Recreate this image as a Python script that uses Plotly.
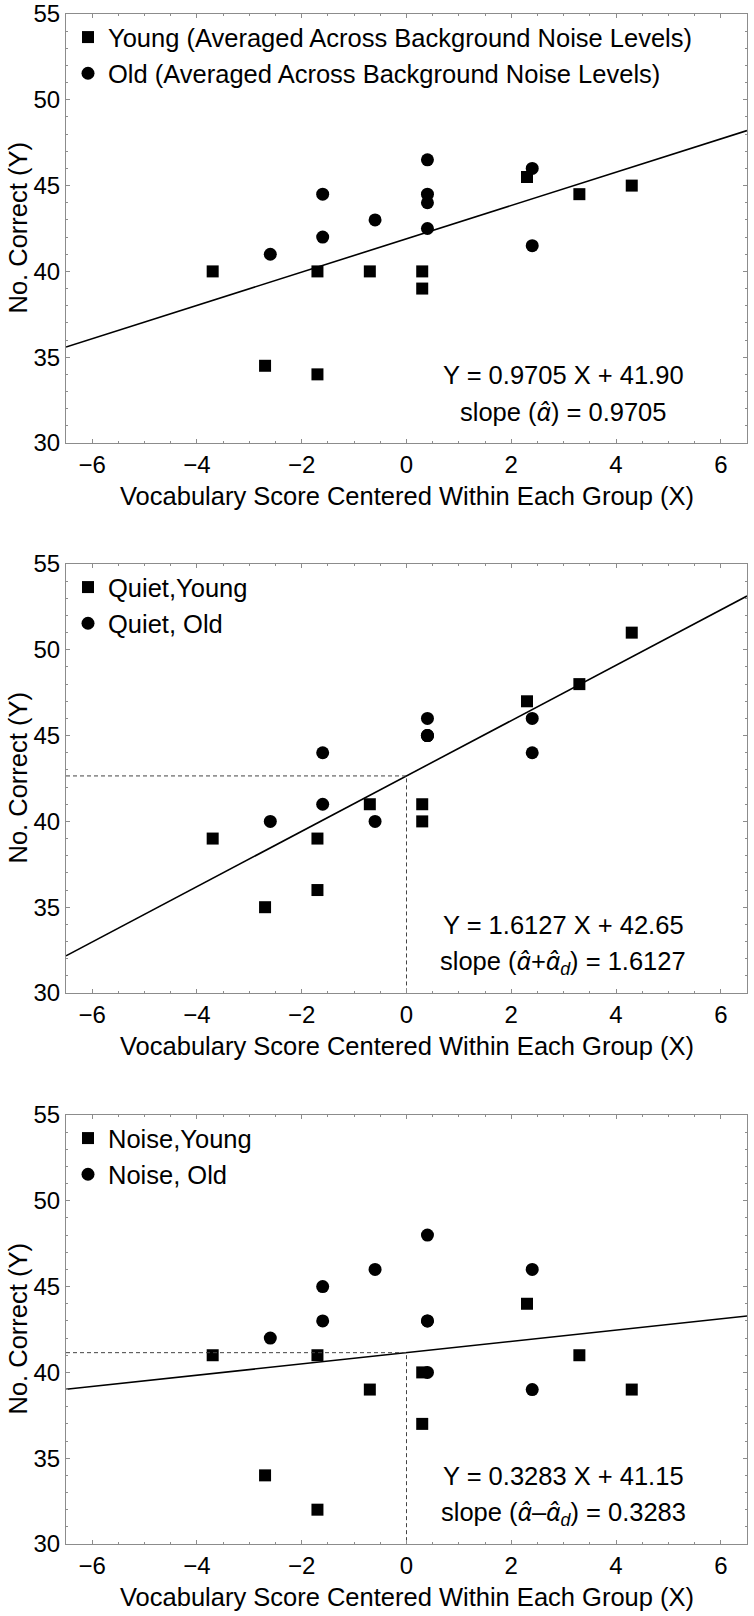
import plotly.graph_objects as go

# ---------------- data ----------------
young_x = [-3.7, -2.7, -1.7, -1.7, -0.7, 0.3, 0.3, 2.3, 3.3, 4.3]
old_x = [-2.6, -1.6, -1.6, -0.6, 0.4, 0.4, 0.4, 0.4, 2.4, 2.4]

avg_young_y = [40, 34.5, 40, 34, 40, 40, 39, 45.5, 44.5, 45]
avg_old_y = [41, 44.5, 42, 43, 46.5, 44.5, 44, 42.5, 46, 41.5]

quiet_young_y = [39, 35, 39, 36, 41, 41, 40, 47, 48, 51]
quiet_old_y = [40, 44, 41, 40, 45, 46, 45, 45, 46, 44]

noise_young_y = [41, 34, 41, 32, 39, 37, 40, 44, 41, 39]
noise_old_y = [42, 45, 43, 46, 48, 43, 43, 40, 46, 39]

slopes = [0.9705, 1.6127, 0.3283]
intercepts = [41.90, 42.65, 41.15]

legend_names = [
    ("Young (Averaged Across Background Noise Levels)", "Old (Averaged Across Background Noise Levels)"),
    ("Quiet,Young", "Quiet, Old"),
    ("Noise,Young", "Noise, Old"),
]
eq_texts = [
    "Y = 0.9705 X + 41.90",
    "Y = 1.6127 X + 42.65",
    "Y = 0.3283 X + 41.15",
]
AH = "<span style='font-family:Noto Sans'><i>α̂</i></span>"
slope_texts = [
    "slope (" + AH + ") = 0.9705",
    "slope (" + AH + "+" + AH + "<sub><i>d</i></sub>) = 1.6127",
    "slope (" + AH + "–" + AH + "<sub><i>d</i></sub>) = 0.3283",
]
show_guides = [False, True, True]

x_title = "Vocabulary Score Centered Within Each Group (X)"
y_title = "No. Correct (Y)"
x_range = [-6.5, 6.5]
y_range = [30, 55]

# ---------------- layout geometry ----------------
W, H = 754, 1616
ML, MR = 66, 7
PW = W - ML - MR
panel_tops = [14, 564, 1115]
panel_h = 429

FONT = "Liberation Sans, Arial, sans-serif"
TICK_FS = 24
TEXT_FS = 25.5
TITLE_FS = 25.5
FRAME = "#8c8c8c"

fig = go.Figure()

ys = [(avg_young_y, avg_old_y), (quiet_young_y, quiet_old_y), (noise_young_y, noise_old_y)]

annotations = []
layout_axes = {}

for i in range(3):
    n = "" if i == 0 else str(i + 1)
    xa, ya = "x" + n, "y" + n
    leg = "legend" + n
    top = panel_tops[i]
    bot = top + panel_h
    dom = [1 - bot / H, 1 - top / H]

    yy, yo = ys[i]
    fig.add_trace(go.Scatter(
        x=young_x, y=yy, mode="markers", name=legend_names[i][0],
        marker=dict(symbol="square", size=12, color="black"),
        xaxis=xa, yaxis=ya, legend=leg, showlegend=True))
    fig.add_trace(go.Scatter(
        x=old_x, y=yo, mode="markers", name=legend_names[i][1],
        marker=dict(symbol="circle", size=13, color="black"),
        xaxis=xa, yaxis=ya, legend=leg, showlegend=True))

    # regression line across the full x range
    lx = list(x_range)
    ly = [slopes[i] * v + intercepts[i] for v in lx]
    fig.add_trace(go.Scatter(
        x=lx, y=ly, mode="lines", line=dict(color="black", width=1.6),
        xaxis=xa, yaxis=ya, showlegend=False, hoverinfo="skip"))

    if show_guides[i]:
        fig.add_trace(go.Scatter(
            x=[x_range[0], 0, 0], y=[intercepts[i], intercepts[i], y_range[0]],
            mode="lines", line=dict(color="#444444", width=1, dash="4px,3px"),
            xaxis=xa, yaxis=ya, showlegend=False, hoverinfo="skip"))

    common = dict(
        showline=True, linecolor=FRAME, linewidth=1, mirror="allticks",
        ticks="inside", ticklen=4, tickcolor=FRAME, tickwidth=1,
        showgrid=False, zeroline=False, automargin=False,
        tickfont=dict(family=FONT, size=TICK_FS, color="black"),
    )
    layout_axes["xaxis" + n] = dict(
        common, domain=[0, 1], range=x_range, anchor=ya,
        tickmode="array", tickvals=[-6, -4, -2, 0, 2, 4, 6],
        minor=dict(dtick=0.5, ticks="inside", ticklen=2, tickcolor=FRAME, showgrid=False),
    )
    layout_axes["yaxis" + n] = dict(
        common, domain=dom, range=y_range, anchor=xa,
        tickmode="array", tickvals=[30, 35, 40, 45, 50, 55],
        minor=dict(dtick=1, ticks="inside", ticklen=2, tickcolor=FRAME, showgrid=False),
    )

    # legends
    layout_axes[leg] = dict(
        x=(68 - ML) / PW, xanchor="left",
        y=1 - (top + 0) / H, yanchor="top",
        font=dict(family=FONT, size=TEXT_FS, color="black"),
        bgcolor="rgba(0,0,0,0)", borderwidth=0, tracegroupgap=0,
        itemsizing="trace",
    )

    ax_x = (563 - ML) / PW
    annotations.append(dict(
        text=eq_texts[i], xref=xa + " domain", yref=ya + " domain",
        x=ax_x, y=1 - 361 / panel_h,
        showarrow=False, font=dict(family=FONT, size=TEXT_FS, color="black"),
        xanchor="center", yanchor="middle"))
    annotations.append(dict(
        text=slope_texts[i], xref=xa + " domain", yref=ya + " domain",
        x=ax_x, y=1 - 397 / panel_h,
        showarrow=False, font=dict(family=FONT, size=TEXT_FS, color="black"),
        xanchor="center", yanchor="middle"))
    # axis titles
    annotations.append(dict(
        text=x_title, xref=xa + " domain", yref=ya + " domain",
        x=0.5, y=-53 / panel_h, showarrow=False,
        font=dict(family=FONT, size=TITLE_FS, color="black"),
        xanchor="center", yanchor="middle"))
    annotations.append(dict(
        text=y_title, xref="paper", yref=ya + " domain",
        x=(17 - ML) / PW, y=0.5, textangle=-90, showarrow=False,
        font=dict(family=FONT, size=TEXT_FS, color="black"),
        xanchor="center", yanchor="middle"))

fig.update_layout(
    width=W, height=H,
    margin=dict(l=ML, r=MR, t=0, b=0, autoexpand=False),
    paper_bgcolor="white", plot_bgcolor="white",
    annotations=annotations,
    **layout_axes,
)

fig.write_html("out.html", config={"displayModeBar": False},
               post_script="document.body.style.margin='0';")
